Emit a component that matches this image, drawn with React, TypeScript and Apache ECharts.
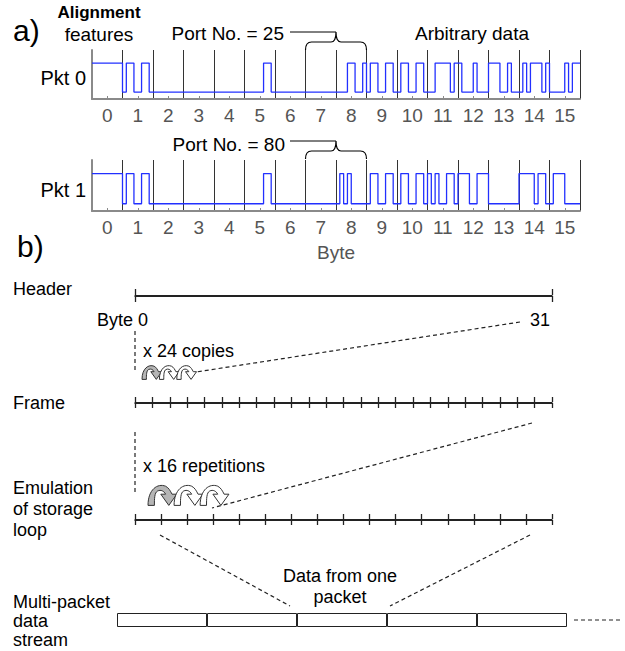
import React, { useEffect, useRef } from "react";
import * as echarts from "echarts";

// ---------- data ----------
const byteLabels = ["0", "1", "2", "3", "4", "5", "6", "7", "8", "9", "10", "11", "12", "13", "14", "15"];
// packet bytes, bits drawn MSB first
const pkt0Bytes = [0xff, 0x66, 0x00, 0x00, 0x00, 0x06, 0x00, 0x00, 0x19, 0x66, 0x66, 0x3d, 0x88, 0xe4, 0x5d, 0x0b];
const pkt1Bytes = [0xff, 0x66, 0x00, 0x00, 0x00, 0x06, 0x00, 0x00, 0x50, 0x66, 0x66, 0xa6, 0xe7, 0x00, 0xf6, 0x70];
const headerLastByte = 31;
const frameCopies = 24;
const loopRepetitions = 16;
const streamPackets = [1, 1, 1, 1, 1];
const streamLabels = ["p1", "p2", "p3", "p4", "p5"];

// ---------- layout ----------
const FONT = '"Liberation Sans", Arial, sans-serif';
const A_LEFT = 92;
const A_W = 488;
const B_LEFT = 135;
const B_W = 417;
const FA = 19; // part a font size
const FB = 18; // part b font size

function toSteps(bytes: number[]) {
  const pts: number[][] = [];
  bytes.forEach((b, k) => {
    for (let j = 0; j < 8; j++) {
      pts.push([k + j / 8, (b >> (7 - j)) & 1]);
    }
  });
  pts.push([bytes.length, pts[pts.length - 1][1]]);
  return pts;
}

const bx = (b: number) => A_LEFT + (A_W * b) / 16;
const HW = A_W / 16; // brace half width = one byte
const braceD = `M${-HW},18 Q${-HW},10 ${-HW + 6},10 L-5,10 Q0,10 0,0 Q0,10 5,10 L${HW - 6},10 Q${HW},10 ${HW},18`;
echarts.graphic.registerShape("brace", echarts.graphic.extendPath(braceD, {}) as any);
const arrowD =
  "M0,14 C0,4 6,0 11,2 C13,3 14,5 15,7 L18,7 L13,14 L8,7 L11,7 C10,5 8,4 6,5 C4,6 4,10 4,14 Z";
echarts.graphic.registerShape("carrow", echarts.graphic.extendPath(arrowD, {}) as any);

function txt(text: string, x: number, y: number, size: number, align = "left", extra: any = {}) {
  return {
    type: "text",
    z: 10,
    style: {
      text,
      x,
      y,
      fill: extra.fill || "#000",
      font: `${extra.bold ? "bold " : ""}${size}px ${FONT}`,
      align,
      textAlign: align,
      verticalAlign: "middle",
      textVerticalAlign: "middle",
    },
  };
}

function dashed(x1: number, y1: number, x2: number, y2: number) {
  return {
    type: "line",
    shape: { x1, y1, x2, y2 },
    style: { stroke: "#222", lineWidth: 1.2, lineDash: [4, 3] },
  };
}

function ruler(gridIndex: number, max: number, interval: number, pos: string, len: number) {
  return {
    gridIndex,
    type: "value",
    min: 0,
    max,
    interval,
    position: pos,
    axisLine: { show: true, lineStyle: { color: "#222", width: 1.2 } },
    axisTick: { show: true, inside: false, length: len, lineStyle: { color: "#222", width: 1.3 } },
    axisLabel: { show: false },
    splitLine: { show: false },
  };
}

function arrows(x0: number, step: number, y: number, scale: number, n: number) {
  const out: any[] = [];
  for (let k = 0; k < n; k++) {
    out.push({
      type: "carrow",
      x: x0 + k * step,
      y,
      scaleX: scale,
      scaleY: scale,
      z: 5 + k,
      style: { fill: k === 0 ? "#b5b5b5" : "#fff", stroke: "#333", lineWidth: 1, strokeNoScale: true },
    });
  }
  return out;
}

export default function App() {
  const ref = useRef<HTMLDivElement>(null);
  useEffect(() => {
    if (!ref.current) return;
    const chart = echarts.init(ref.current, null, { renderer: "svg" });

    const valueX = (gridIndex: number) => ({
      gridIndex,
      type: "value",
      min: 0,
      max: 16,
      interval: 1,
      position: "top",
      axisLine: { show: false },
      axisTick: { show: false },
      axisLabel: { show: false },
      splitLine: { show: true, lineStyle: { color: "#333", width: 1 } },
    });
    const catX = (gridIndex: number, withName: boolean) => ({
      gridIndex,
      type: "category",
      data: byteLabels,
      position: "bottom",
      boundaryGap: true,
      axisLine: { show: true, lineStyle: { color: "#8a8a8a", width: 2 } },
      axisTick: { show: true, inside: true, alignWithLabel: true, length: 3, lineStyle: { color: "#8a8a8a" } },
      axisLabel: { color: "#555", fontSize: FA, fontFamily: FONT, margin: 7, interval: 0 },
      splitLine: { show: false },
      name: withName ? "Byte" : "",
      nameLocation: "middle",
      nameGap: 32,
      nameTextStyle: { color: "#555", fontSize: FA, fontFamily: FONT },
    });
    const waveY = (gridIndex: number) => ({
      gridIndex,
      type: "value",
      min: -0.24,
      max: 1.45,
      axisLine: { show: true, lineStyle: { color: "#8a8a8a", width: 2 } },
      axisTick: { show: false },
      axisLabel: { show: false },
      splitLine: { show: false },
    });
    const hiddenY = (gridIndex: number) => ({ gridIndex, type: "value", min: 0, max: 1, show: false });

    const graphics: any[] = [
      // part a texts
      txt("a)", 13, 30, 30),
      txt("Alignment", 99, 12, 17, "center", { bold: true }),
      txt("features", 99, 34, FA, "center"),
      txt("Port No. = 25", 284, 33, FA, "right"),
      txt("Arbitrary data", 472, 33, FA, "center"),
      txt("Pkt 0", 86, 78, 20, "right"),
      txt("Port No. = 80", 285, 144, FA, "right"),
      txt("Pkt 1", 86, 190, 20, "right"),
      { type: "line", shape: { x1: 290, y1: 32, x2: bx(8), y2: 32 }, style: { stroke: "#000", lineWidth: 1 } },
      { type: "brace", x: bx(8), y: 32, style: { fill: "none", stroke: "#000", lineWidth: 1.2 } },
      { type: "line", shape: { x1: 290, y1: 141, x2: bx(8), y2: 141 }, style: { stroke: "#000", lineWidth: 1 } },
      { type: "brace", x: bx(8), y: 141, style: { fill: "none", stroke: "#000", lineWidth: 1.2 } },
      // part b texts
      txt("b)", 17, 246, 30),
      txt("Header", 13, 289, FB),
      txt("Byte 0", 148, 320, FB, "right"),
      txt("31", 550, 320, FB, "right"),
      txt("x 24 copies", 143, 351, FB),
      txt("Frame", 13, 403, FB),
      txt("x 16 repetitions", 143, 466, FB),
      txt("Emulation", 13, 488, FB),
      txt("of storage", 13, 509, FB),
      txt("loop", 13, 530, FB),
      txt("Data from one", 340, 576, FB, "center"),
      txt("packet", 340, 597, FB, "center"),
      txt("Multi-packet", 13, 602, FB),
      txt("data", 13, 621, FB),
      txt("stream", 13, 640, FB),
      dashed(B_LEFT, 331, B_LEFT, 372),
      dashed(520, 322, 196, 372),
      dashed(B_LEFT, 432, B_LEFT, 492),
      dashed(532, 423, 212, 508),
      dashed(160, 535, 290, 606),
      dashed(530, 535, 390, 606),
      dashed(574, 620, 622, 620),
      ...arrows(142, B_W / frameCopies, 364, 1.1, 3),
      ...arrows(148, B_W / loopRepetitions, 483, 1.6, 3),
    ];

    chart.setOption({
      animation: false,
      backgroundColor: "#fff",
      grid: [
        { left: A_LEFT, top: 50, width: A_W, height: 49 },
        { left: A_LEFT, top: 160, width: A_W, height: 51 },
        { left: B_LEFT, top: 295, width: B_W, height: 1 },
        { left: B_LEFT, top: 402, width: B_W, height: 1 },
        { left: B_LEFT, top: 519, width: B_W, height: 1 },
        { left: 117, top: 613, width: 450, height: 14 },
      ],
      xAxis: [
        valueX(0),
        catX(0, false),
        valueX(1),
        catX(1, true),
        ruler(2, headerLastByte, headerLastByte, "bottom", 6),
        ruler(2, headerLastByte, headerLastByte, "top", 6),
        ruler(3, frameCopies, 1, "bottom", 5),
        ruler(3, frameCopies, 1, "top", 5),
        ruler(4, loopRepetitions, 1, "bottom", 5),
        ruler(4, loopRepetitions, 1, "top", 5),
        { gridIndex: 5, type: "category", data: streamLabels, boundaryGap: true, show: false },
      ],
      yAxis: [waveY(0), waveY(1), hiddenY(2), hiddenY(3), hiddenY(4), hiddenY(5)],
      series: [
        {
          type: "line",
          xAxisIndex: 0,
          yAxisIndex: 0,
          step: "end",
          symbol: "none",
          data: toSteps(pkt0Bytes),
          lineStyle: { color: "#2230ff", width: 1.3 },
          z: 3,
        },
        {
          type: "line",
          xAxisIndex: 2,
          yAxisIndex: 1,
          step: "end",
          symbol: "none",
          data: toSteps(pkt1Bytes),
          lineStyle: { color: "#2230ff", width: 1.3 },
          z: 3,
        },
        {
          type: "bar",
          xAxisIndex: 10,
          yAxisIndex: 5,
          data: streamPackets,
          barWidth: "100%",
          itemStyle: { color: "#fff", borderColor: "#222", borderWidth: 1 },
          silent: true,
        },
      ],
      graphic: graphics,
    });
    return () => chart.dispose();
  }, []);
  return (
    <div
      ref={ref}
      style={{ position: "fixed", left: 0, top: 0, width: 625, height: 651, background: "#fff" }}
    />
  );
}
